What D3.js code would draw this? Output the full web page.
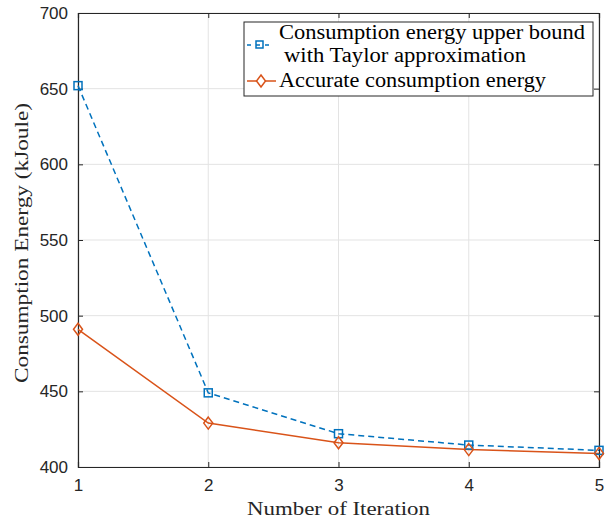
<!DOCTYPE html>
<html>
<head>
<meta charset="utf-8">
<script src="https://cdn.jsdelivr.net/npm/d3@7"></script>
<style>
body { margin: 0; background: #fff; }
</style>
</head>
<body>
<div id="chart"></div>
<script>
var iterations = [1, 2, 3, 4, 5];
var upperBound = [652, 449, 422, 414.5, 411];
var accurate = [491, 429, 416, 411.5, 409];
var xTicks = [1, 2, 3, 4, 5];
var yTicks = [400, 450, 500, 550, 600, 650, 700];

var width = 606, height = 523;
var margin = {left: 78, right: 7, top: 13, bottom: 56};
var blue = "#0072BD", orange = "#D95319";

var svg = d3.select("#chart").append("svg")
    .attr("width", width)
    .attr("height", height);

var x = d3.scaleLinear().domain([1, 5]).range([margin.left, width - margin.right]);
var y = d3.scaleLinear().domain([400, 700]).range([height - margin.bottom, margin.top]);

// grid
svg.append("g").selectAll("line.gx")
    .data(xTicks).enter().append("line")
    .attr("x1", function(d){ return x(d); }).attr("x2", function(d){ return x(d); })
    .attr("y1", y(400)).attr("y2", y(700))
    .style("stroke", "#e3e3e3").style("stroke-width", 1);
svg.append("g").selectAll("line.gy")
    .data(yTicks).enter().append("line")
    .attr("y1", function(d){ return y(d); }).attr("y2", function(d){ return y(d); })
    .attr("x1", x(1)).attr("x2", x(5))
    .style("stroke", "#e3e3e3").style("stroke-width", 1);

// axes, matlab style ticks inward
var tickFont = "'Liberation Sans', Arial, sans-serif";
var xAxis = svg.append("g")
    .attr("transform", "translate(0," + y(400) + ")")
    .call(d3.axisBottom(x).tickValues(xTicks).tickSize(-5).tickPadding(12).tickFormat(d3.format("d")));
var xTop = svg.append("g")
    .attr("transform", "translate(0," + y(700) + ")")
    .call(d3.axisTop(x).tickValues(xTicks).tickSize(-5).tickFormat(""));
var yAxis = svg.append("g")
    .attr("transform", "translate(" + x(1) + ",0)")
    .call(d3.axisLeft(y).tickValues(yTicks).tickSize(-5).tickPadding(10));
var yRight = svg.append("g")
    .attr("transform", "translate(" + x(5) + ",0)")
    .call(d3.axisRight(y).tickValues(yTicks).tickSize(-5).tickFormat(""));

[xAxis, xTop, yAxis, yRight].forEach(function(a){
  a.select(".domain").style("stroke", "#262626").style("stroke-width", 1.2);
  a.selectAll(".tick line").style("stroke", "#262626");
  a.selectAll("text")
    .style("font-family", tickFont)
    .style("font-size", "17px")
    .style("fill", "#262626");
});

// lines
var line = d3.line()
    .x(function(d, i){ return x(iterations[i]); })
    .y(function(d){ return y(d); });

svg.append("path")
    .datum(upperBound)
    .attr("d", line)
    .style("fill", "none")
    .style("stroke", blue)
    .style("stroke-width", 1.5)
    .style("stroke-dasharray", "6,4");

svg.append("path")
    .datum(accurate)
    .attr("d", line)
    .style("fill", "none")
    .style("stroke", orange)
    .style("stroke-width", 1.5);

// markers
svg.append("g").selectAll("rect")
    .data(upperBound).enter().append("rect")
    .attr("x", function(d, i){ return x(iterations[i]) - 4; })
    .attr("y", function(d){ return y(d) - 4; })
    .attr("width", 8).attr("height", 8)
    .style("fill", "none")
    .style("stroke", blue)
    .style("stroke-width", 1.5);

svg.append("g").selectAll("path.dia")
    .data(accurate).enter().append("path")
    .attr("transform", function(d, i){ return "translate(" + x(iterations[i]) + "," + y(d) + ")"; })
    .attr("d", "M0,-6L4.5,0L0,6L-4.5,0Z")
    .style("fill", "none")
    .style("stroke", orange)
    .style("stroke-width", 1.5);

// axis labels
var serif = "'Liberation Serif', 'DejaVu Serif', serif";
svg.append("text")
    .attr("x", 338.5)
    .attr("y", 515)
    .attr("text-anchor", "middle")
    .attr("textLength", 183)
    .attr("lengthAdjust", "spacingAndGlyphs")
    .text("Number of Iteration")
    .style("font-family", serif)
    .style("font-size", "19px")
    .style("fill", "#262626");

svg.append("text")
    .attr("transform", "translate(28,243) rotate(-90)")
    .attr("text-anchor", "middle")
    .attr("textLength", 280)
    .attr("lengthAdjust", "spacingAndGlyphs")
    .text("Consumption Energy (kJoule)")
    .style("font-family", serif)
    .style("font-size", "19px")
    .style("fill", "#262626");

// legend
var legend = svg.append("g");
legend.append("rect")
    .attr("x", 244).attr("y", 22)
    .attr("width", 349).attr("height", 74)
    .style("fill", "#fff")
    .style("stroke", "#262626")
    .style("stroke-width", 1);

legend.append("line")
    .attr("x1", 247).attr("x2", 273).attr("y1", 45).attr("y2", 45)
    .style("stroke", blue).style("stroke-width", 1.5).style("stroke-dasharray", "4,5");
legend.append("rect")
    .attr("x", 256).attr("y", 41).attr("width", 7).attr("height", 7)
    .style("fill", "none").style("stroke", blue).style("stroke-width", 1.5);

legend.append("line")
    .attr("x1", 247).attr("x2", 276).attr("y1", 81).attr("y2", 81)
    .style("stroke", orange).style("stroke-width", 1.5);
legend.append("path")
    .attr("transform", "translate(261,81)")
    .attr("d", "M0,-6L4.5,0L0,6L-4.5,0Z")
    .style("fill", "#fff").style("stroke", orange).style("stroke-width", 1.5);

var legendText = [
  {t: "Consumption energy upper bound", x: 279, y: 39, w: 306},
  {t: "with Taylor approximation", x: 284, y: 62, w: 242},
  {t: "Accurate consumption energy", x: 279, y: 87, w: 267}
];
legend.selectAll("text.lt")
    .data(legendText).enter().append("text")
    .attr("x", function(d){ return d.x; })
    .attr("y", function(d){ return d.y; })
    .attr("textLength", function(d){ return d.w; })
    .attr("lengthAdjust", "spacingAndGlyphs")
    .text(function(d){ return d.t; })
    .style("font-family", serif)
    .style("font-size", "20px")
    .style("fill", "#000");
</script>
</body>
</html>
